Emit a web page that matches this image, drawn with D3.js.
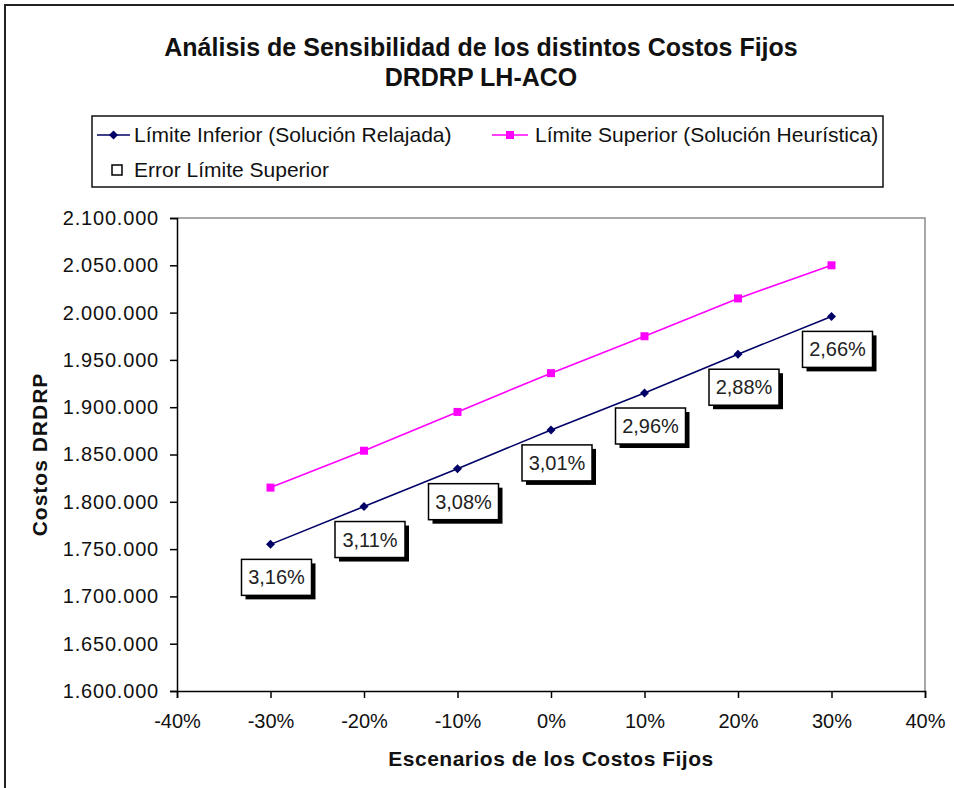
<!DOCTYPE html>
<html>
<head>
<meta charset="utf-8">
<script src="https://cdn.jsdelivr.net/npm/d3@7"></script>
<style>
  html, body { margin: 0; padding: 0; background: #fff; }
  svg { display: block; font-family: "Liberation Sans", Arial, sans-serif; }
</style>
</head>
<body>
<svg id="chart" width="954" height="788"></svg>
<script>
// Fixed-cost scenarios (% change) and resulting DRDRP costs
const scenarios = [-30, -20, -10, 0, 10, 20, 30];
const lowerBound = [1755000, 1795000, 1835000, 1876000, 1915000, 1956000, 1996000];
const upperBound = [1815000, 1854000, 1895000, 1936000, 1975000, 2015000, 2050000];
const upperError = [3.16, 3.11, 3.08, 3.01, 2.96, 2.88, 2.66];

const xTicks = [-40, -30, -20, -10, 0, 10, 20, 30, 40];
const yTicks = [1600000, 1650000, 1700000, 1750000, 1800000, 1850000, 1900000, 1950000, 2000000, 2050000, 2100000];

const titleLines = ["Análisis de Sensibilidad de los distintos Costos Fijos", "DRDRP LH-ACO"];
const seriesNames = ["Límite Inferior (Solución Relajada)", "Límite Superior (Solución Heurística)", "Error Límite Superior"];
const xTitle = "Escenarios de los Costos Fijos";
const yTitle = "Costos DRDRP";

const esLocale = d3.formatLocale({ decimal: ",", thousands: ".", grouping: [3], currency: ["$", ""] });
const fmtThousands = esLocale.format(",.0f");
const fmtPct = esLocale.format(".2f");

const svg = d3.select("#chart");
const blue = "#000066", pink = "#ff00ff";

// chart frame
svg.append("rect").attr("x", 0).attr("y", 0).attr("width", 954).attr("height", 788).attr("fill", "#fff");
svg.append("rect").attr("x", 5).attr("y", 5).attr("width", 970).attr("height", 810)
  .attr("fill", "none").attr("stroke", "#222").attr("stroke-width", 2);

// title
svg.append("g").selectAll("text").data(titleLines).join("text")
  .attr("x", 481).attr("y", (d, i) => 56 + i * 30)
  .attr("text-anchor", "middle").attr("font-weight", "bold").attr("font-size", 25)
  .attr("fill", "#111").text(d => d);

// plot area
const plot = { left: 177, right: 925, top: 218, bottom: 691 };
const x = d3.scaleLinear().domain([-40, 40]).range([plot.left, plot.right]);
const y = d3.scaleLinear().domain([1600000, 2100000]).range([plot.bottom, plot.top]);

svg.append("path")
  .attr("d", `M${plot.left},${plot.top}H${plot.right}V${plot.bottom}`)
  .attr("fill", "none").attr("stroke", "#8c8c8c").attr("stroke-width", 1.5);

// y axis
const yAxis = svg.append("g").attr("transform", `translate(${plot.left},0)`)
  .call(d3.axisLeft(y).tickValues(yTicks).tickFormat(fmtThousands).tickSize(7).tickPadding(11));
yAxis.select(".domain").attr("stroke", "#000").attr("stroke-width", 1.5);
yAxis.selectAll(".tick line").attr("stroke", "#000").attr("stroke-width", 1.5);
yAxis.selectAll(".tick text").attr("font-size", 20).attr("fill", "#111").attr("letter-spacing", 0.8)
  .attr("font-family", "\"Liberation Sans\", Arial, sans-serif");

// x axis
const xAxis = svg.append("g").attr("transform", `translate(0,${plot.bottom})`)
  .call(d3.axisBottom(x).tickValues(xTicks).tickFormat(d => d + "%").tickSize(7).tickPadding(16));
xAxis.select(".domain").attr("stroke", "#000").attr("stroke-width", 1.5);
xAxis.selectAll(".tick line").attr("stroke", "#000").attr("stroke-width", 1.5);
xAxis.selectAll(".tick text").attr("font-size", 20).attr("fill", "#111")
  .attr("font-family", "\"Liberation Sans\", Arial, sans-serif");

// axis titles
svg.append("text").attr("x", (plot.left + plot.right) / 2).attr("y", 766)
  .attr("text-anchor", "middle").attr("font-weight", "bold").attr("font-size", 21)
  .attr("letter-spacing", 0.5).attr("fill", "#111").text(xTitle);
svg.append("text")
  .attr("transform", `translate(47,${(plot.top + plot.bottom) / 2}) rotate(-90)`)
  .attr("text-anchor", "middle").attr("font-weight", "bold").attr("font-size", 21)
  .attr("letter-spacing", 1).attr("fill", "#111").text(yTitle);

// series
const rows = scenarios.map((s, i) => ({ s, lo: lowerBound[i], hi: upperBound[i], err: upperError[i] }));
const diamond = "M0,-4.5L4.5,0L0,4.5L-4.5,0Z";

svg.append("path").datum(rows)
  .attr("d", d3.line().x(d => x(d.s)).y(d => y(d.hi)))
  .attr("fill", "none").attr("stroke", pink).attr("stroke-width", 1.6);
svg.append("g").selectAll("rect").data(rows).join("rect")
  .attr("x", d => x(d.s) - 4).attr("y", d => y(d.hi) - 4)
  .attr("width", 8).attr("height", 8).attr("fill", pink);

svg.append("path").datum(rows)
  .attr("d", d3.line().x(d => x(d.s)).y(d => y(d.lo)))
  .attr("fill", "none").attr("stroke", blue).attr("stroke-width", 1.6);
svg.append("g").selectAll("path").data(rows).join("path")
  .attr("transform", d => `translate(${x(d.s)},${y(d.lo)})`)
  .attr("d", diamond).attr("fill", blue);

// error labels under the lower-bound points
const lbW = 70, lbH = 36;
const labels = svg.append("g").selectAll("g").data(rows).join("g")
  .attr("transform", d => `translate(${x(d.s) + 6 - lbW / 2},${y(d.lo) + 15})`);
labels.append("rect").attr("x", 4).attr("y", 4).attr("width", lbW).attr("height", lbH).attr("fill", "#000");
labels.append("rect").attr("width", lbW).attr("height", lbH)
  .attr("fill", "#fff").attr("stroke", "#000").attr("stroke-width", 1.5);
labels.append("text").attr("x", lbW / 2).attr("y", 25)
  .attr("text-anchor", "middle").attr("font-size", 20).attr("fill", "#222")
  .text(d => fmtPct(d.err) + "%");

// legend
const lg = svg.append("g");
lg.append("rect").attr("x", 92).attr("y", 116).attr("width", 791).attr("height", 71)
  .attr("fill", "#fff").attr("stroke", "#111").attr("stroke-width", 1.5);
lg.append("line").attr("x1", 97).attr("x2", 130).attr("y1", 135).attr("y2", 135)
  .attr("stroke", blue).attr("stroke-width", 1.6);
lg.append("path").attr("transform", "translate(113.5,135)").attr("d", diamond).attr("fill", blue);
lg.append("text").attr("x", 134).attr("y", 142).attr("font-size", 21).attr("fill", "#111").text(seriesNames[0]);
lg.append("line").attr("x1", 492).attr("x2", 528).attr("y1", 135).attr("y2", 135)
  .attr("stroke", pink).attr("stroke-width", 1.6);
lg.append("rect").attr("x", 506).attr("y", 131).attr("width", 8).attr("height", 8).attr("fill", pink);
lg.append("text").attr("x", 535).attr("y", 142).attr("font-size", 21).attr("fill", "#111").text(seriesNames[1]);
lg.append("rect").attr("x", 112).attr("y", 165).attr("width", 10).attr("height", 10)
  .attr("fill", "#fff").attr("stroke", "#000").attr("stroke-width", 1.5);
lg.append("text").attr("x", 134).attr("y", 177).attr("font-size", 21).attr("fill", "#111").text(seriesNames[2]);
</script>
</body>
</html>
